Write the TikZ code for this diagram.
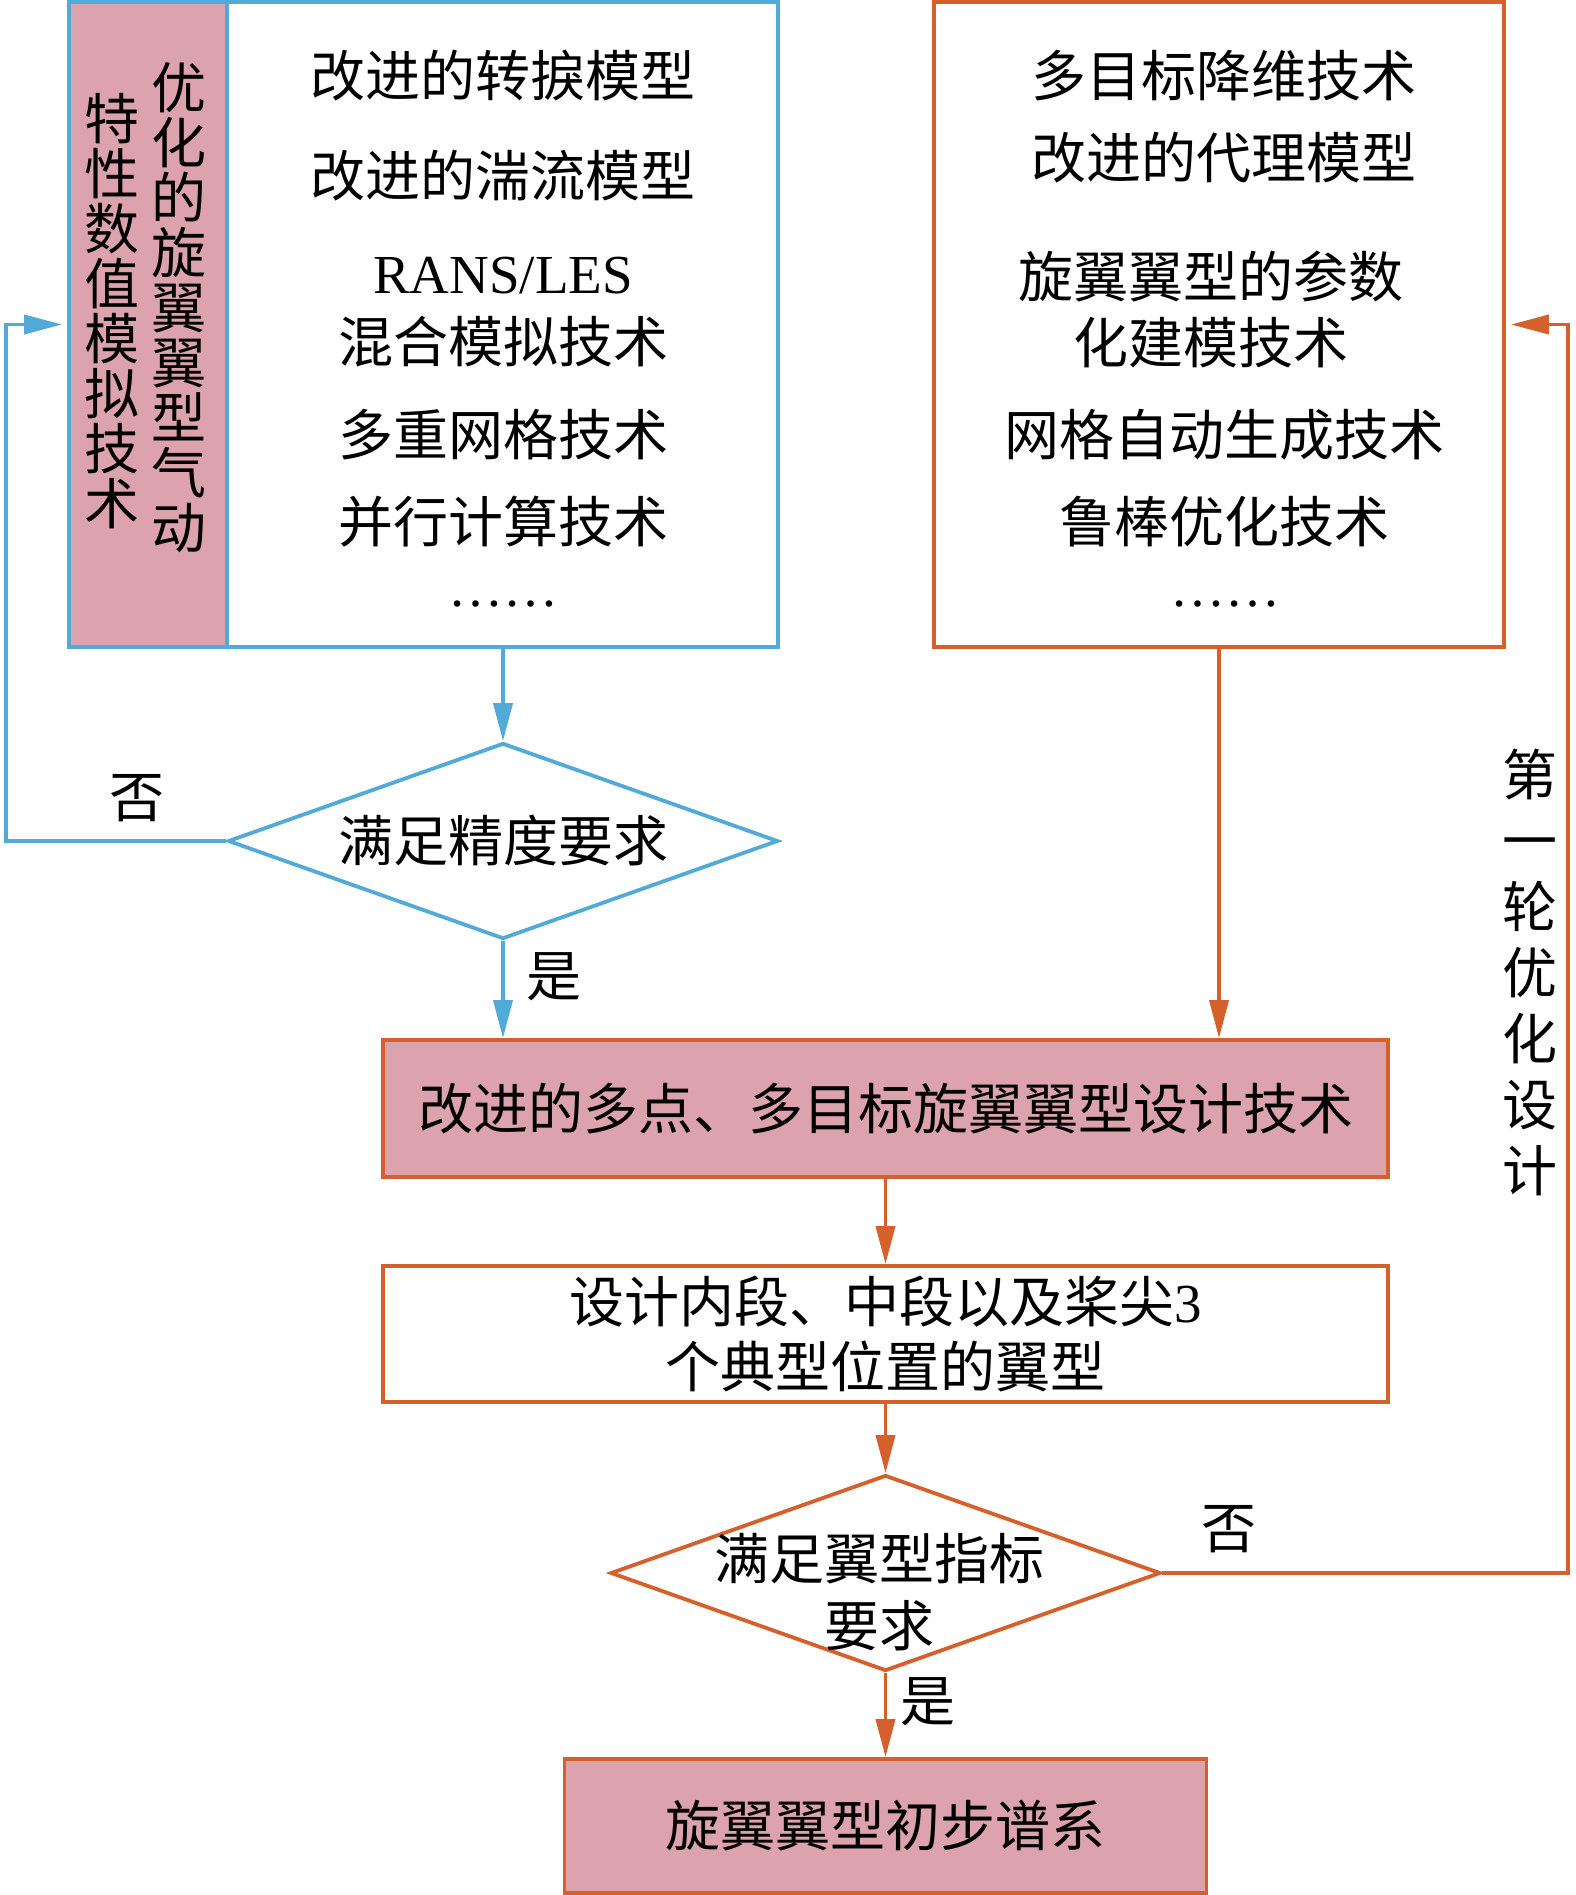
\documentclass[tikz,border=0pt]{standalone}
\usepackage{fontspec}
\setmainfont{Liberation Serif}
\newfontfamily\cjk{Noto Sans CJK SC}
\usetikzlibrary{shapes.geometric,arrows.meta}

\definecolor{lanse}{RGB}{82,170,217}
\definecolor{chengse}{RGB}{213,96,43}
\definecolor{fense}{RGB}{220,162,173}

\begin{document}
\begin{tikzpicture}[x=0.5pt, y=-0.5pt,
  every node/.style={font=\cjk\fontsize{27.5pt}{33pt}\selectfont, inner sep=0pt},
  kuang/.style={draw, line width=1.9pt, rectangle},
  panduan/.style={draw, line width=1.9pt, diamond, aspect=2.8, minimum width=275pt, minimum height=98pt},
  jiantou/.style={line width=1.9pt, -{Triangle[length=19pt,width=9.5pt]}}]

\useasboundingbox (0,0) rectangle (1575,1895);

% 左侧：气动特性数值模拟技术
\node (jishu) [kuang, draw=lanse, minimum width=354.5pt, minimum height=322.5pt] at (423.5,324.5) {};
\node (lie) [kuang, draw=lanse, fill=fense, minimum width=79pt, minimum height=322.5pt] at (148,324.5) {};
\node (lieA) [align=center, font=\cjk\fontsize{27.5pt}{27.5pt}\selectfont] at (179,308) {优\\化\\的\\旋\\翼\\翼\\型\\气\\动};
\node (lieB) [align=center, font=\cjk\fontsize{27.5pt}{27.5pt}\selectfont] at (112,311) {特\\性\\数\\值\\模\\拟\\技\\术};

\node (zhuanlie) at (503,76) {改进的转捩模型};
\node (tuanliu) at (503,176) {改进的湍流模型};
\node (rans) [font=\rmfamily\fontsize{27.5pt}{33pt}\selectfont] at (503,276) {RANS/LES};
\node (hunhe) at (503,342) {混合模拟技术};
\node (duochong) at (503,435) {多重网格技术};
\node (bingxing) at (503,522) {并行计算技术};
\node (shenglveA) [anchor=base, font=\rmfamily\fontsize{27.5pt}{33pt}\selectfont] at (503,606) {……};

% 右侧：优化设计技术
\node (youhua) [kuang, draw=chengse, minimum width=285pt, minimum height=322.5pt] at (1219,324.5) {};
\node (jiangwei) at (1224,76) {多目标降维技术};
\node (daili) at (1224,158) {改进的代理模型};
\node (canshu) [align=center] at (1211,309) {旋翼翼型的参数\\化建模技术};
\node (wangge) at (1224,435) {网格自动生成技术};
\node (lubang) at (1224,522) {鲁棒优化技术};
\node (shenglveB) [anchor=base, font=\rmfamily\fontsize{27.5pt}{33pt}\selectfont] at (1225,606) {……};

% 判断与设计流程
\node (jingdu) [panduan, draw=lanse] at (503,841) {满足精度要求};
\node (sheji) [kuang, draw=chengse, fill=fense, minimum width=502.5pt, minimum height=68.5pt] at (885.5,1108.5) {改进的多点、多目标旋翼翼型设计技术};
\node (dianxing) [kuang, draw=chengse, align=center, minimum width=502.5pt, minimum height=68pt,
  font=\cjk\fontsize{27.5pt}{32.5pt}\selectfont] at (885.5,1334) {设计内段、中段以及桨尖{\rmfamily 3}\\个典型位置的翼型};
\node (zhibiao) [panduan, draw=chengse] at (885.5,1573) {};
\node (zhibiaowz) [align=center, font=\cjk\fontsize{27.5pt}{33.5pt}\selectfont] at (879,1592) {满足翼型指标\\要求};
\node (puxi) [kuang, draw=chengse, fill=fense, minimum width=321pt, minimum height=67pt] at (885.5,1826) {旋翼翼型初步谱系};

% 标注
\node (fouA) at (137,798) {否};
\node (shiA) at (554,977) {是};
\node (fouB) at (1229,1529) {否};
\node (shiB) at (928,1702) {是};
\node (lunci) [align=center] at (1530,972) {第\\一\\轮\\优\\化\\设\\计};

% 连线
\coordinate (zuohui) at (6,324.5);
\coordinate (youhui) at (1568,324.5);
\draw[jiantou, lanse] (jishu.south -| jingdu.north) -- (jingdu.north);
\draw[jiantou, lanse] (jingdu.south) -- (jingdu.south |- sheji.north);
\draw[jiantou, lanse, shorten >=2.5pt] (jingdu.west) -| (zuohui) -- (lie.west);
\draw[jiantou, chengse] (youhua.south) -- (youhua.south |- sheji.north);
\draw[jiantou, chengse] (sheji.south) -- (dianxing.north);
\draw[jiantou, chengse] (dianxing.south) -- (zhibiao.north);
\draw[jiantou, chengse] (zhibiao.south) -- (puxi.north);
\draw[jiantou, chengse, shorten >=2.5pt] (zhibiao.east) -| (youhui) -- (youhua.east);
\end{tikzpicture}
\end{document}
